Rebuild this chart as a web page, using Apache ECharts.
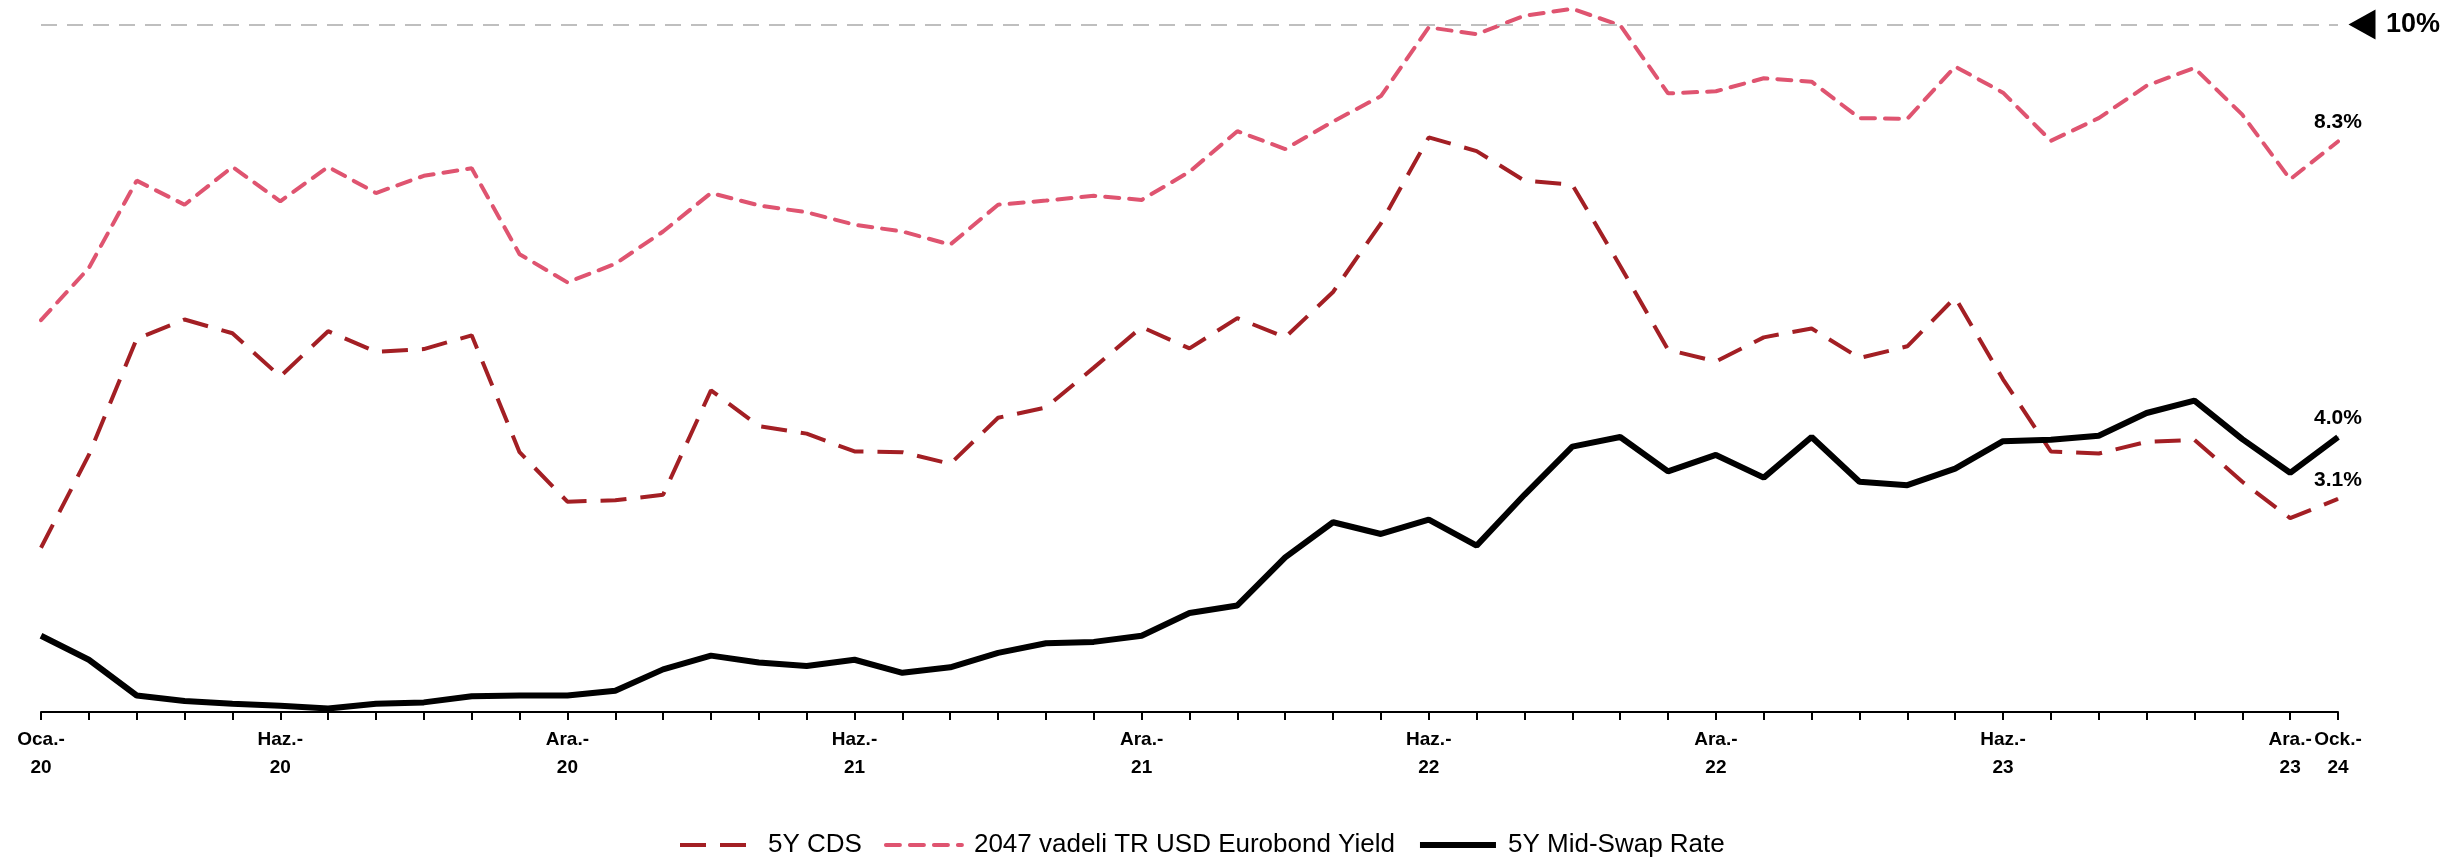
<!DOCTYPE html>
<html>
<head>
<meta charset="utf-8">
<title>5Y CDS / Eurobond / Mid-Swap</title>
<script src="https://cdn.jsdelivr.net/npm/echarts@6.0.0/dist/echarts.min.js"></script>
<style>
  html, body { margin: 0; padding: 0; background: #fff; }
  #chart { width: 2443px; height: 862px; }
</style>
</head>
<body>
<div id="chart"></div>
<script>
// monthly, Oca.-20 ... Ock.-24
const months = [
  "Oca.-20", "Şub.-20", "Mar.-20", "Nis.-20", "May.-20", "Haz.-20", "Tem.-20", "Ağu.-20", "Eyl.-20", "Eki.-20", "Kas.-20", "Ara.-20",
  "Oca.-21", "Şub.-21", "Mar.-21", "Nis.-21", "May.-21", "Haz.-21", "Tem.-21", "Ağu.-21", "Eyl.-21", "Eki.-21", "Kas.-21", "Ara.-21",
  "Oca.-22", "Şub.-22", "Mar.-22", "Nis.-22", "May.-22", "Haz.-22", "Tem.-22", "Ağu.-22", "Eyl.-22", "Eki.-22", "Kas.-22", "Ara.-22",
  "Oca.-23", "Şub.-23", "Mar.-23", "Nis.-23", "May.-23", "Haz.-23", "Tem.-23", "Ağu.-23", "Eyl.-23", "Eki.-23", "Kas.-23", "Ara.-23",
  "Ock.-24"
];
// which month labels are printed under the axis
const shownLabels = [0, 5, 11, 17, 23, 29, 35, 41, 47, 48];

const cds5y = [
  2.39, 3.74, 5.43, 5.71, 5.51, 4.88, 5.54, 5.24, 5.28, 5.48, 3.78, 3.06,
  3.08, 3.16, 4.68, 4.16, 4.05, 3.79, 3.78, 3.61, 4.28, 4.43, 5.01, 5.60,
  5.29, 5.73, 5.45, 6.11, 7.11, 8.36, 8.16, 7.73, 7.67, 6.49, 5.27, 5.10,
  5.45, 5.58, 5.15, 5.32, 6.03, 4.84, 3.79, 3.76, 3.93, 3.96, 3.35, 2.82,
  3.1
];
const eurobond2047 = [
  5.70, 6.46, 7.73, 7.38, 7.93, 7.43, 7.93, 7.55, 7.80, 7.91, 6.66, 6.25,
  6.52, 6.99, 7.55, 7.37, 7.27, 7.09, 6.99, 6.80, 7.38, 7.44, 7.51, 7.45,
  7.86, 8.45, 8.19, 8.59, 8.96, 9.96, 9.86, 10.13, 10.23, 9.99, 9.00, 9.03,
  9.22, 9.17, 8.64, 8.63, 9.39, 9.01, 8.31, 8.64, 9.11, 9.37, 8.69, 7.75,
  8.3
];
const midSwap5y = [
  1.11, 0.76, 0.24, 0.16, 0.12, 0.09, 0.05, 0.12, 0.14, 0.23, 0.24, 0.24,
  0.31, 0.62, 0.82, 0.72, 0.67, 0.76, 0.57, 0.65, 0.86, 1.00, 1.02, 1.11,
  1.44, 1.55, 2.25, 2.76, 2.59, 2.80, 2.42, 3.16, 3.86, 4.00, 3.50, 3.74,
  3.41, 4.00, 3.35, 3.30, 3.54, 3.94, 3.96, 4.02, 4.35, 4.53, 3.97, 3.48,
  4.0
];
const refLevel = 10;

const FONT = "'Liberation Sans', Arial, sans-serif";

// last point gets the value label
function withEndLabel(values) {
  return values.map((v, i) => {
    if (i !== values.length - 1) return v;
    return {
      value: v,
      symbol: "circle",
      symbolSize: 1,
      label: {
        show: true,
        position: "top",
        distance: 8,
        formatter: (p) => p.value.toFixed(1) + "%",
        color: "#000",
        fontFamily: FONT,
        fontWeight: "bold",
        fontSize: 21,
      },
    };
  });
}

const chart = echarts.init(document.getElementById("chart"));
chart.setOption({
  animation: false,
  backgroundColor: "#fff",
  grid: { left: 41, right: 105, top: 4, bottom: 150 },
  legend: {
    left: 673,
    top: 827,
    itemWidth: 76,
    itemHeight: 14,
    itemGap: 22,
    itemStyle: { opacity: 0 },
    lineStyle: { width: "inherit" },
    textStyle: { fontFamily: FONT, fontSize: 26, color: "#000", padding: [0, 0, 0, 7] },
    data: ["5Y CDS", "2047 vadeli TR USD Eurobond Yield", "5Y Mid-Swap Rate"],
  },
  xAxis: {
    type: "category",
    data: months,
    boundaryGap: false,
    axisLine: { lineStyle: { color: "#000", width: 2 } },
    axisTick: { interval: 0, length: 8, lineStyle: { color: "#000", width: 2 } },
    axisLabel: {
      interval: (idx) => shownLabels.indexOf(idx) >= 0,
      formatter: (v) => v.replace("-", "-\n"),
      margin: 14,
      color: "#000",
      fontFamily: FONT,
      fontWeight: "bold",
      fontSize: 19,
      lineHeight: 28,
      hideOverlap: false,
    },
    splitLine: { show: false },
  },
  yAxis: {
    type: "value",
    min: 0,
    max: 10.3,
    show: false,
    splitLine: { show: false },
  },
  series: [
    {
      name: "5Y CDS",
      type: "line",
      symbol: "none",
      clip: false,
      data: withEndLabel(cds5y),
      itemStyle: { color: "#A31F24" },
      lineStyle: { color: "#A31F24", width: 4, type: [26, 14] },
    },
    {
      name: "2047 vadeli TR USD Eurobond Yield",
      type: "line",
      symbol: "none",
      clip: false,
      data: withEndLabel(eurobond2047),
      itemStyle: { color: "#DF5470" },
      lineStyle: { color: "#DF5470", width: 4, type: [14, 10], cap: "round" },
      markLine: {
        silent: true,
        symbol: ["none", "none"],
        label: { show: false },
        lineStyle: { color: "#BFBFBF", width: 2, type: [16, 10] },
        data: [{ yAxis: refLevel }],
      },
      markPoint: {
        silent: true,
        data: [
          {
            coord: [months.length - 1, refLevel],
            symbol: "triangle",
            symbolRotate: 90,
            symbolSize: [30, 27],
            symbolOffset: [24, 0],
            itemStyle: { color: "#000" },
            label: { show: false },
          },
          {
            coord: [months.length - 1, refLevel],
            symbol: "circle",
            symbolSize: 1,
            itemStyle: { color: "rgba(0,0,0,0)" },
            label: {
              show: true,
              position: "inside",
              offset: [75, 0],
              formatter: refLevel + "%",
              color: "#000",
              fontFamily: FONT,
              fontWeight: "bold",
              fontSize: 27,
            },
          },
        ],
      },
    },
    {
      name: "5Y Mid-Swap Rate",
      type: "line",
      symbol: "none",
      clip: false,
      data: withEndLabel(midSwap5y),
      itemStyle: { color: "#000" },
      lineStyle: { color: "#000", width: 6 },
    },
  ],
});
</script>
</body>
</html>
